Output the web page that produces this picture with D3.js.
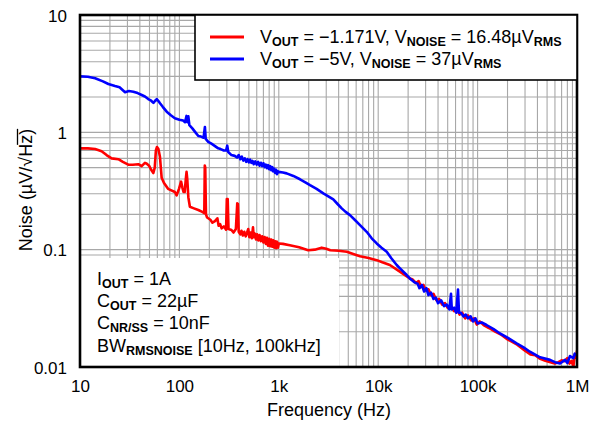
<!DOCTYPE html>
<html>
<head>
<meta charset="utf-8">
<script src="https://cdn.jsdelivr.net/npm/d3@7/dist/d3.min.js"></script>
<style>
  html, body { margin: 0; padding: 0; background: #fff; }
  svg { display: block; font-family: "Liberation Sans", Arial, sans-serif; }
</style>
</head>
<body>
<svg id="chart" width="595" height="424"></svg>
<script>
// ---------------- DATA ----------------
const xTickValues = [10, 100, 1000, 10000, 100000, 1000000];
const xTickLabels = ["10", "100", "1k", "10k", "100k", "1M"];
const yTickValues = [0.01, 0.1, 1, 10];
const yTickLabels = ["0.01", "0.1", "1", "10"];

const seriesNames = ["V_OUT = \u22121.171V, V_NOISE = 16.48\u00B5V_RMS", "V_OUT = \u22125V, V_NOISE = 37\u00B5V_RMS"];

// Red series: VOUT = -1.171 V
const redFreq = [10, 12, 14.2, 16.5, 18.5, 20.8, 24.3, 27, 30.6, 34, 38.6, 41.7, 45, 47, 49.5, 52, 54.7, 56.5, 58, 59.5, 61.5, 63.7, 66.3, 70, 76.9, 83, 90, 93.8, 99, 104, 107, 110, 113, 116, 118, 120, 123, 127.5, 140, 155, 170, 178, 180, 182, 185, 190, 205, 215, 228, 241, 248, 257, 266, 280, 295, 300, 306, 312, 334, 350, 370, 382, 388, 395, 410, 421, 435, 450, 465, 480, 493, 505, 520, 535, 550, 560, 575, 590, 605, 621, 640, 660, 680, 700, 720, 740, 760, 780, 800, 820, 840, 860, 880, 900, 920, 940, 960, 980, 1000, 1100, 1290, 1600, 1975, 2300, 2700, 3000, 3300, 4000, 4840, 5600, 6560, 8000, 9660, 11000, 13100, 16500, 20800, 22000, 24000, 25500, 27000, 28500, 30000, 32000, 34000, 36000, 38500, 41000, 44000, 47000, 50000, 54000, 58000, 62000, 66000, 70000, 75000, 80000, 86000, 92000, 98000, 105000, 115000, 130000, 150000, 170000, 200000, 250000, 300000, 340000, 380000, 420000, 480000, 540000, 600000, 650000, 700000, 750000, 800000, 840000, 880000, 920000, 950000, 980000, 1000000];
const redNoise = [0.73, 0.73, 0.72, 0.69, 0.64, 0.60, 0.59, 0.56, 0.53, 0.53, 0.535, 0.515, 0.55, 0.54, 0.52, 0.48, 0.45, 0.50, 0.70, 0.75, 0.72, 0.62, 0.41, 0.37, 0.33, 0.32, 0.31, 0.29, 0.33, 0.38, 0.34, 0.31, 0.31, 0.40, 0.46, 0.40, 0.28, 0.232, 0.225, 0.218, 0.21, 0.205, 0.52, 0.50, 0.20, 0.188, 0.18, 0.17, 0.175, 0.185, 0.16, 0.165, 0.152, 0.158, 0.148, 0.27, 0.27, 0.15, 0.147, 0.14, 0.15, 0.248, 0.245, 0.142, 0.135, 0.145, 0.132, 0.142, 0.13, 0.14, 0.15, 0.128, 0.14, 0.125, 0.155, 0.128, 0.137, 0.122, 0.135, 0.12, 0.133, 0.118, 0.13, 0.115, 0.128, 0.112, 0.126, 0.108, 0.124, 0.107, 0.122, 0.106, 0.12, 0.104, 0.118, 0.103, 0.117, 0.104, 0.113, 0.112, 0.109, 0.105, 0.099, 0.100, 0.104, 0.102, 0.099, 0.098, 0.096, 0.092, 0.088, 0.085, 0.0814, 0.078, 0.074, 0.0649, 0.0569, 0.056, 0.052, 0.054, 0.048, 0.05, 0.045, 0.046, 0.041, 0.042, 0.037, 0.038, 0.034, 0.035, 0.032, 0.033, 0.030, 0.031, 0.028, 0.029, 0.026, 0.0275, 0.025, 0.026, 0.023, 0.0245, 0.0228, 0.0215, 0.020, 0.019, 0.0172, 0.0155, 0.0138, 0.0128, 0.0126, 0.0118, 0.0113, 0.011, 0.0107, 0.011, 0.0114, 0.0112, 0.0119, 0.0107, 0.0113, 0.0101, 0.0128, 0.012, 0.0138];

// Blue series: VOUT = -5 V
const blueFreq = [10, 12, 14.2, 17, 19.3, 22.5, 25, 28.4, 31, 34.4, 38, 41.8, 45, 48.6, 52, 54.8, 57, 59.2, 61.5, 63.8, 68, 74.5, 82, 90, 100, 109, 114, 118, 120, 123, 126, 135, 145, 155, 165, 175, 180.6, 184, 195, 210, 230, 246, 260, 280, 295, 303, 310, 334, 360, 380, 395, 410, 425, 440, 455, 470, 485, 500, 515, 530, 545, 560, 580, 600, 620, 640, 660, 680, 700, 720, 740, 760, 780, 800, 820, 840, 860, 880, 900, 920, 940, 960, 980, 1000, 1100, 1200, 1400, 1634, 1850, 2060, 2400, 2805, 3150, 3534, 3900, 4295, 4700, 5200, 5800, 6560, 7660, 8600, 9660, 10800, 12180, 13500, 15350, 16560, 19360, 20800, 23000, 25000, 26000, 27500, 29000, 30500, 32000, 34000, 36000, 38000, 40000, 43000, 46000, 49000, 52000, 54000, 55000, 58000, 61000, 63500, 65000, 68000, 72000, 76000, 80000, 85000, 90000, 95000, 100000, 110000, 123000, 145000, 168000, 200000, 247000, 290000, 336000, 425000, 535000, 600000, 675000, 757000, 800000, 850000, 920000, 950000, 1000000];
const blueNoise = [3.0, 2.98, 2.89, 2.72, 2.58, 2.48, 2.42, 2.2, 2.25, 2.22, 2.16, 2.08, 2.02, 1.92, 1.86, 1.78, 1.86, 1.92, 1.85, 1.77, 1.65, 1.50, 1.40, 1.32, 1.28, 1.26, 1.22, 1.38, 1.22, 1.37, 1.15, 1.08, 1.0, 0.93, 0.92, 0.90, 1.11, 0.88, 0.83, 0.80, 0.76, 0.73, 0.72, 0.70, 0.70, 0.77, 0.68, 0.64, 0.63, 0.61, 0.64, 0.59, 0.62, 0.575, 0.60, 0.56, 0.59, 0.555, 0.585, 0.55, 0.57, 0.535, 0.565, 0.53, 0.56, 0.52, 0.55, 0.515, 0.545, 0.505, 0.53, 0.495, 0.525, 0.485, 0.515, 0.475, 0.505, 0.465, 0.49, 0.45, 0.48, 0.44, 0.465, 0.46, 0.455, 0.447, 0.425, 0.398, 0.375, 0.355, 0.33, 0.302, 0.285, 0.268, 0.245, 0.225, 0.21, 0.197, 0.18, 0.162, 0.142, 0.125, 0.113, 0.104, 0.096, 0.085, 0.074, 0.0693, 0.0608, 0.0569, 0.053, 0.051, 0.047, 0.05, 0.044, 0.047, 0.041, 0.043, 0.038, 0.039, 0.035, 0.037, 0.033, 0.034, 0.031, 0.042, 0.031, 0.032, 0.029, 0.0458, 0.029, 0.029, 0.027, 0.028, 0.026, 0.027, 0.0245, 0.026, 0.0235, 0.024, 0.0228, 0.021, 0.0193, 0.0178, 0.0159, 0.0147, 0.0135, 0.0121, 0.0115, 0.011, 0.0107, 0.0115, 0.0108, 0.0124, 0.0119, 0.013, 0.0125];

const annotations = [
  ["I", "OUT", " = 1A"],
  ["C", "OUT", " = 22\u00B5F"],
  ["C", "NR/SS", " = 10nF"],
  ["BW", "RMSNOISE", " [10Hz, 100kHz]"]
];

// ---------------- CHART ----------------
const svg = d3.select("#chart");
const L = 80, R = 577, T = 15, B = 367;

const x = d3.scaleLog().domain([10, 1e6]).range([L, R]);
const y = d3.scaleLog().domain([0.01, 10]).range([B, T]);

// grid
const gridColor = "#a8a8a8";
const g = svg.append("g");
g.selectAll("line.vx").data(x.ticks()).join("line")
  .attr("x1", d => x(d)).attr("x2", d => x(d))
  .attr("y1", T).attr("y2", B)
  .attr("stroke", gridColor).attr("stroke-width", 1.1);
g.selectAll("line.hy").data(y.ticks()).join("line")
  .attr("y1", d => y(d)).attr("y2", d => y(d))
  .attr("x1", L).attr("x2", R)
  .attr("stroke", gridColor).attr("stroke-width", 1.1);

// annotation box (white, covers grid)
svg.append("rect").attr("x", L).attr("y", 258).attr("width", 259).attr("height", B - 258)
  .attr("fill", "#fff");

// clip
svg.append("clipPath").attr("id", "clip").append("rect")
  .attr("x", L).attr("y", T).attr("width", R - L).attr("height", B - T);

const line = d3.line().x(d => x(d[0])).y(d => y(d[1]));
const redData = redFreq.map((f, i) => [f, redNoise[i]]);
const blueData = blueFreq.map((f, i) => [f, blueNoise[i]]);

const curves = svg.append("g").attr("clip-path", "url(#clip)");
curves.append("path").datum(redData).attr("d", line)
  .attr("fill", "none").attr("stroke", "#ff0000").attr("stroke-width", 2.6).attr("stroke-linejoin", "round");
curves.append("path").datum(blueData).attr("d", line)
  .attr("fill", "none").attr("stroke", "#0000ff").attr("stroke-width", 2.6).attr("stroke-linejoin", "round");

// frame
svg.append("rect").attr("x", L).attr("y", T).attr("width", R - L).attr("height", B - T)
  .attr("fill", "none").attr("stroke", "#000").attr("stroke-width", 2.6);

// axes
const xAxis = svg.append("g").attr("transform", `translate(0,${B})`)
  .call(d3.axisBottom(x).tickValues(xTickValues).tickFormat((d, i) => xTickLabels[i]).tickSize(0));
xAxis.select(".domain").remove();
xAxis.selectAll("text").attr("y", 25).attr("dy", null)
  .attr("font-size", 17).attr("font-family", "Liberation Sans, Arial, sans-serif").attr("fill", "#000");

const yAxis = svg.append("g").attr("transform", `translate(${L},0)`)
  .call(d3.axisLeft(y).tickValues(yTickValues).tickFormat((d, i) => yTickLabels[i]).tickSize(0));
yAxis.select(".domain").remove();
yAxis.selectAll("text").attr("x", -13).attr("dy", "0.36em")
  .attr("font-size", 17).attr("font-family", "Liberation Sans, Arial, sans-serif").attr("fill", "#000");

// axis titles
svg.append("text").attr("x", 329).attr("y", 416).attr("text-anchor", "middle")
  .attr("font-size", 18).text("Frequency (Hz)");

const yt = svg.append("g").attr("transform", "translate(32,190) rotate(-90)");
const ytText = yt.append("text").attr("text-anchor", "middle").attr("font-size", 18);
ytText.append("tspan").text("Noise (\u00B5V/\u221A");
ytText.append("tspan").text("Hz");
ytText.append("tspan").text(")");
{
  const node = ytText.node();
  const full = node.getComputedTextLength();
  const pre = node.getSubStringLength(0, 12);
  const hz = node.getSubStringLength(12, 2);
  const x0 = -full / 2 + pre;
  yt.append("line").attr("x1", x0 - 1).attr("x2", x0 + hz)
    .attr("y1", -14.5).attr("y2", -14.5).attr("stroke", "#000").attr("stroke-width", 1.3);
}

// legend
svg.append("rect").attr("x", 195).attr("y", T).attr("width", R - 195).attr("height", 65)
  .attr("fill", "#fff").attr("stroke", "#000").attr("stroke-width", 1.6);
const legendColors = ["#ff0000", "#0000ff"];
function subText(sel, parts, size, subSize) {
  parts.forEach(([t, sub], i) => {
    const ts = sel.append("tspan").text(t);
    if (sub) ts.attr("font-size", subSize).attr("font-weight", "bold").attr("dy", 3);
    else if (i > 0) ts.attr("dy", -3);
  });
}
seriesNames.forEach((name, i) => {
  const ly = [37, 59][i];
  svg.append("line").attr("x1", 210).attr("x2", 244).attr("y1", ly).attr("y2", ly)
    .attr("stroke", legendColors[i]).attr("stroke-width", 3);
  const t = svg.append("text").attr("x", 260).attr("y", ly + 6).attr("font-size", 18);
  const parts = [];
  name.split("_").forEach((seg, k) => {
    if (k === 0) { parts.push([seg, false]); return; }
    const m = seg.match(/^([A-Z]+)(.*)$/);
    parts.push([m[1], true]);
    if (m[2]) parts.push([m[2], false]);
  });
  subText(t, parts, 18, 12.5);
});

// annotations
annotations.forEach((a, i) => {
  const t = svg.append("text").attr("x", 97).attr("y", 285 + i * 22.2).attr("font-size", 18);
  subText(t, [[a[0], false], [a[1], true], [a[2], false]], 18, 12.5);
});
</script>
</body>
</html>
